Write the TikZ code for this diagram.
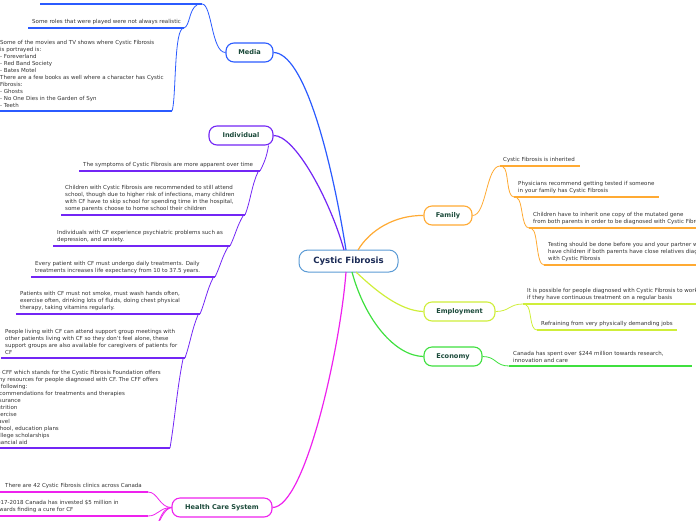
\documentclass[tikz,border=0pt]{standalone}
\usepackage{fontspec}
\setmainfont{DejaVu Sans}
\definecolor{mediaC}{HTML}{2B5BFF}
\definecolor{indivC}{HTML}{7326F5}
\definecolor{hcsC}{HTML}{EE22EE}
\definecolor{familyC}{HTML}{FFAA33}
\definecolor{empC}{HTML}{CFEE3A}
\definecolor{econC}{HTML}{3FE03F}
\definecolor{centerC}{HTML}{5B9BD5}
\definecolor{labeltxt}{HTML}{1B4A3A}
\definecolor{centertxt}{HTML}{1A2A55}
\definecolor{leaftxt}{HTML}{333333}
\newcommand\leaffont{\fontsize{5.5}{7.0}\selectfont}
\newcommand\branchfont{\fontsize{6.6}{8}\selectfont\bfseries}
\newcommand\centerfont{\fontsize{8.6}{10}\selectfont\bfseries}
\tikzset{
 leaf/.style={anchor=south west, inner sep=0pt, align=left, font=\leaffont, text=leaftxt},
 branch/.style={draw=#1, line width=1.1pt, rounded corners=8pt, fill=white, minimum height=19pt, inner sep=0pt, font=\branchfont, text=labeltxt},
 uline/.style={draw=#1, line width=1.5pt},
 conn/.style={draw=#1, line width=0.8pt},
 mainconn/.style={draw=#1, line width=1.2pt},
}
\begin{document}
\begin{tikzpicture}[x=1pt,y=-1pt]
\useasboundingbox (0,0) rectangle (696,520);
% central and branch nodes
\node[draw=centerC, line width=1pt, rounded corners=9pt, fill=white, minimum width=99pt, minimum height=22pt, inner sep=0pt, font=\centerfont, text=centertxt] (cf) at (348.5,261) {Cystic Fibrosis};
\node[branch=mediaC, minimum width=47pt] (media) at (249.5,52.5) {Media};
\node[branch=indivC, minimum width=64pt] (indiv) at (241,135.5) {Individual};
\node[branch=hcsC, minimum width=100pt] (hcs) at (222,507.5) {Health Care System};
\node[branch=familyC, minimum width=48pt] (family) at (448,215.5) {Family};
\node[branch=empC, minimum width=71pt] (emp) at (459.5,311.5) {Employment};
\node[branch=econC, minimum width=58pt] (econ) at (453,356.5) {Economy};
% anchor points on the central node
\coordinate (cMed) at (346,250);
\coordinate (cInd) at (344,250);
\coordinate (cFam) at (358,250);
\coordinate (cHcs) at (346,272);
\coordinate (cEmp) at (356,272);
\coordinate (cEco) at (352,272);
% main connectors
\draw[mainconn=mediaC] (cMed) .. controls (330,150) and (303,53) .. (media.east);
\draw[mainconn=indivC] (cInd) .. controls (330,200) and (295,135) .. (indiv.east);
\draw[mainconn=hcsC] (cHcs) .. controls (340,350) and (305,507) .. (hcs.east);
\draw[mainconn=familyC] (cFam) .. controls (370,230) and (395,215) .. (family.west);
\draw[mainconn=empC] (cEmp) .. controls (375,290) and (400,311) .. (emp.west);
\draw[mainconn=econC] (cEco) .. controls (365,320) and (395,356) .. (econ.west);

% ---------- Media leaves
\coordinate (m1a) at (40,4); \coordinate (m1b) at (202,4);
\draw[uline=mediaC] (m1a) -- (m1b);
\node[leaf] (m2) at (32,25) {Some roles that were played were not always realistic};
\coordinate (m2a) at (28,28); \coordinate (m2b) at (184,28);
\draw[uline=mediaC] (m2a) -- (m2b);
\node[leaf] (m3) at (0,108) {Some of the movies and TV shows where Cystic Fibrosis\\is portrayed is:\\- Foreverland\\- Red Band Society\\- Bates Motel\\There are a few books as well where a character has Cystic\\Fibrosis:\\- Ghosts\\- No One Dies in the Garden of Syn\\- Teeth};
\coordinate (m3a) at (0,111); \coordinate (m3b) at (172,111);
\draw[uline=mediaC] (m3a) -- (m3b);
\coordinate (m1j) at (197,5);
\coordinate (m2j) at (182,29);
\draw[conn=mediaC] (media.west) .. controls +(-14,0) and +(10,0) .. (m1b);
\draw[conn=mediaC] (m1j) .. controls +(-8,4) and +(6,-2) .. (m2b);
\draw[conn=mediaC] (m2j) .. controls +(-8,6) and +(4,-10) .. (m3b);

% ---------- Individual leaves
\node[leaf] (i1) at (83,168) {The symptoms of Cystic Fibrosis are more apparent over time};
\coordinate (i1a) at (79,171); \coordinate (i1b) at (260,171);
\node[leaf] (i2) at (65,212) {Children with Cystic Fibrosis are recommended to still attend\\school, though due to higher risk of infections, many children\\with CF have to skip school for spending time in the hospital,\\some parents choose to home school their children};
\coordinate (i2a) at (61,215); \coordinate (i2b) at (245,215);
\node[leaf] (i3) at (57,243) {Individuals with CF experience psychiatric problems such as\\depression, and anxiety.};
\coordinate (i3a) at (53,246); \coordinate (i3b) at (230,246);
\node[leaf] (i4) at (35,274) {Every patient with CF must undergo daily treatments. Daily\\treatments increases life expectancy from 10 to 37.5 years.};
\coordinate (i4a) at (31,277); \coordinate (i4b) at (215,277);
\node[leaf] (i5) at (20,311) {Patients with CF must not smoke, must wash hands often,\\exercise often, drinking lots of fluids, doing chest physical\\therapy, taking vitamins regularly.};
\coordinate (i5a) at (16,314); \coordinate (i5b) at (200,314);
\node[leaf] (i6) at (5,355) {People living with CF can attend support group meetings with\\other patients living with CF so they don't feel alone, these\\support groups are also available for caregivers of patients for\\CF};
\coordinate (i6a) at (1,358); \coordinate (i6b) at (185,358);
\node[leaf] (i7) at (-10,445) {The CFF which stands for the Cystic Fibrosis Foundation offers\\many resources for people diagnosed with CF. The CFF offers\\the following:\\- recommendations for treatments and therapies\\- insurance\\- nutrition\\- exercise\\- travel\\- school, education plans\\- college scholarships\\- financial aid};
\coordinate (i7a) at (-2,448); \coordinate (i7b) at (170,448);
\foreach \n in {1,...,7} \draw[uline=indivC] (i\n a) -- (i\n b);
\coordinate (i0j) at ([xshift=-5pt]indiv.south east);
\coordinate (i1j) at (258,172);
\coordinate (i2j) at (243,216);
\coordinate (i3j) at (228,247);
\coordinate (i4j) at (213,278);
\coordinate (i5j) at (198,315);
\coordinate (i6j) at (183,359);
\draw[conn=indivC] (i0j) .. controls +(-2,12) and +(4,-8) .. (i1b);
\draw[conn=indivC] (i1j) .. controls +(-6,12) and +(5,-12) .. (i2b);
\draw[conn=indivC] (i2j) .. controls +(-6,10) and +(5,-10) .. (i3b);
\draw[conn=indivC] (i3j) .. controls +(-6,10) and +(5,-10) .. (i4b);
\draw[conn=indivC] (i4j) .. controls +(-6,12) and +(5,-12) .. (i5b);
\draw[conn=indivC] (i5j) .. controls +(-6,14) and +(5,-14) .. (i6b);
\draw[conn=indivC] (i6j) .. controls +(-6,30) and +(5,-30) .. (i7b);

% ---------- Health Care System leaves
\node[leaf] (h1) at (5,489) {There are 42 Cystic Fibrosis clinics across Canada};
\coordinate (h1a) at (-2,492); \coordinate (h1b) at (148,492);
\node[leaf] (h2) at (-6.5,513) {2017-2018 Canada has invested \$5 million in\\towards finding a cure for CF};
\coordinate (h2a) at (-2,516); \coordinate (h2b) at (148,516);
\draw[uline=hcsC] (h1a) -- (h1b);
\draw[uline=hcsC] (h2a) -- (h2b);
\coordinate (h3b) at (150,540);
\coordinate (h4b) at (145,565);
\draw[conn=hcsC] (hcs.west) .. controls +(-12,0) and +(10,0) .. (h1b);
\draw[conn=hcsC] (hcs.west) .. controls +(-12,0) and +(10,0) .. (h2b);
\draw[conn=hcsC] (hcs.west) .. controls +(-12,0) and +(8,-10) .. (h3b);
\draw[conn=hcsC] (hcs.west) .. controls +(-12,2) and +(6,-20) .. (h4b);

% ---------- Family leaves
\node[leaf] (f1) at (503,163) {Cystic Fibrosis is inherited};
\coordinate (f1a) at (500,166); \coordinate (f1b) at (580,166);
\node[leaf] (f2) at (518,194) {Physicians recommend getting tested if someone\\in your family has Cystic Fibrosis};
\coordinate (f2a) at (514,197); \coordinate (f2b) at (659,197);
\node[leaf] (f3) at (533,225) {Children have to inherit one copy of the mutated gene\\from both parents in order to be diagnosed with Cystic Fibrosis};
\coordinate (f3a) at (529,228); \coordinate (f3b) at (705,228);
\node[leaf] (f4) at (548,262) {Testing should be done before you and your partner want to\\have children if both parents have close relatives diagnosed\\with Cystic Fibrosis};
\coordinate (f4a) at (544,265); \coordinate (f4b) at (705,265);
\foreach \n in {1,...,4} \draw[uline=familyC] (f\n a) -- (f\n b);
\coordinate (f1j) at (503,167);
\coordinate (f2j) at (517,198);
\coordinate (f3j) at (532,229);
\draw[conn=familyC] (family.east) .. controls +(14,0) and +(-14,0) .. (f1a);
\draw[conn=familyC] (f1j) .. controls +(6,2) and +(-8,0) .. (f2a);
\draw[conn=familyC] (f2j) .. controls +(6,2) and +(-8,0) .. (f3a);
\draw[conn=familyC] (f3j) .. controls +(6,2) and +(-8,0) .. (f4a);

% ---------- Employment leaves
\node[leaf] (e1) at (527,301) {It is possible for people diagnosed with Cystic Fibrosis to work\\if they have continuous treatment on a regular basis};
\coordinate (e1a) at (523,304); \coordinate (e1b) at (705,304);
\node[leaf] (e2) at (541,327) {Refraining from very physically demanding jobs};
\coordinate (e2a) at (537,330); \coordinate (e2b) at (677,330);
\draw[uline=empC] (e1a) -- (e1b);
\draw[uline=empC] (e2a) -- (e2b);
\coordinate (e1j) at (526,305);
\draw[conn=empC] (emp.east) .. controls +(14,0) and +(-14,0) .. (e1a);
\draw[conn=empC] (e1j) .. controls +(6,2) and +(-8,0) .. (e2a);

% ---------- Economy leaf
\node[leaf] (c1) at (513,363) {Canada has spent over \$244 million towards research,\\innovation and care};
\coordinate (c1a) at (509,366); \coordinate (c1b) at (692,366);
\draw[uline=econC] (c1a) -- (c1b);
\draw[conn=econC] (econ.east) .. controls +(14,0) and +(-14,0) .. (c1a);
\end{tikzpicture}
\end{document}
